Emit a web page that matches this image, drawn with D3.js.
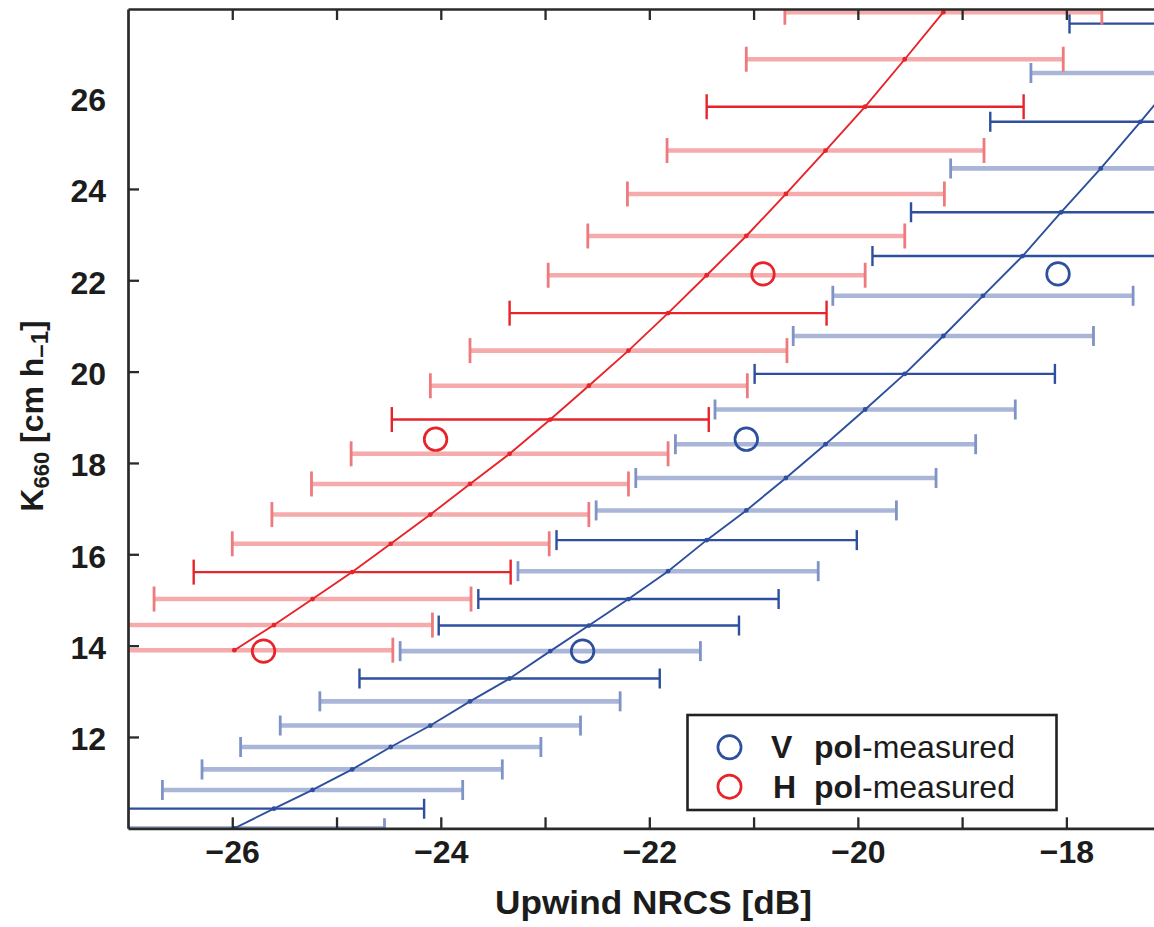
<!DOCTYPE html>
<html>
<head>
<meta charset="utf-8">
<script src="https://cdn.jsdelivr.net/npm/d3@7"></script>
<style>
  html, body { margin: 0; padding: 0; background: #fff; }
  svg { display: block; }
  text { font-family: "Liberation Sans", Arial, Helvetica, sans-serif; fill: #1c1c1c; }
</style>
</head>
<body>
<svg id="chart" width="1154" height="927"></svg>
<script>
// ---------------- data ----------------
// H pol model: upwind NRCS [dB] vs K660 [cm/h], with ±error bars
const hNRCS = [-19.18, -19.55, -19.93, -20.31, -20.69, -21.07, -21.45, -21.82, -22.20, -22.58,
               -22.95, -23.34, -23.72, -24.10, -24.48, -24.85, -25.23, -25.60, -25.98];
const hK    = [27.87, 26.84, 25.80, 24.84, 23.89, 22.97, 22.11, 21.28, 20.46, 19.69,
               18.95, 18.20, 17.54, 16.87, 16.23, 15.61, 15.02, 14.45, 13.90];
const hErr  = 1.52;

// V pol model
const vNRCS = [-16.53, -16.90, -17.29, -17.67, -18.05, -18.42, -18.80, -19.18, -19.55, -19.93,
               -20.31, -20.69, -21.07, -21.45, -21.82, -22.20, -22.58, -22.95, -23.34, -23.72,
               -24.10, -24.48, -24.85, -25.23, -25.60, -25.98];
const vK    = [27.62, 26.54, 25.47, 24.45, 23.49, 22.53, 21.66, 20.78, 19.95, 19.17,
               18.41, 17.67, 16.96, 16.31, 15.63, 15.02, 14.44, 13.88, 13.28, 12.78,
               12.25, 11.78, 11.29, 10.84, 10.43, 10.00];
const vErr  = 1.44;

// measured points
const hMeasNRCS = [-25.70, -24.05, -20.91];
const hMeasK    = [13.88, 18.52, 22.14];
const vMeasNRCS = [-22.64, -21.07, -18.08];
const vMeasK    = [13.88, 18.52, 22.14];

// axes
const xTicks      = [-26, -25, -24, -23, -22, -21, -20, -19, -18];
const xTickLabels = ["\u221226", "", "\u221224", "", "\u221222", "", "\u221220", "", "\u221218"];
const yTicks      = [12, 14, 16, 18, 20, 22, 24, 26];
const yTickLabels = ["12", "14", "16", "18", "20", "22", "24", "26"];
const legendPol   = ["V", "H"];
const legendText  = ["pol", "-measured"];

// ---------------- drawing ----------------
const RED = "#e8242b", RED_L = "#f5aaac", RED_M = "#ef7a7e";
const BLUE = "#2d4f9e", BLUE_L = "#aab6d8", BLUE_M = "#8093c6";
const AX = "#2a2a2a";

// rows that render crisp (saturated, thin) vs. soft (pale, wide) in the figure
const redCrisp = new Set([2, 7, 10, 15]);
const blueCrisp = new Set([0, 2, 4, 5, 8, 13, 15, 16, 18, 24]);

const svg = d3.select("#chart");
const x = d3.scaleLinear().domain([-27, -17.15]).range([128, 1155]);
const y = d3.scaleLinear().domain([10, 27.94]).range([828.3, 9]);

svg.append("defs").append("clipPath").attr("id", "clip")
  .append("rect").attr("x", x(-27)).attr("y", y(27.94))
  .attr("width", x(-17.15) - x(-27)).attr("height", y(10) - y(27.94));

const plot = svg.append("g").attr("clip-path", "url(#clip)");

function drawBars(nrcs, K, err, crisp, dark, light, mid, capH) {
  const rows = nrcs.map((v, i) => ({ v, k: K[i], c: crisp.has(i) }));
  const g = plot.append("g");
  const sorted = rows.slice().sort((a, b) => a.c - b.c);
  g.selectAll("line.bar").data(sorted).join("line")
    .attr("x1", d => x(d.v - err)).attr("x2", d => x(d.v + err))
    .attr("y1", d => y(d.k)).attr("y2", d => y(d.k))
    .attr("stroke", d => d.c ? dark : light)
    .attr("stroke-width", d => d.c ? 2.4 : 4.6);
  const caps = [];
  sorted.forEach(d => { caps.push({ xv: d.v - err, k: d.k, c: d.c }); caps.push({ xv: d.v + err, k: d.k, c: d.c }); });
  g.selectAll("line.cap").data(caps).join("line")
    .attr("x1", d => x(d.xv)).attr("x2", d => x(d.xv))
    .attr("y1", d => y(d.k) - capH).attr("y2", d => y(d.k) + capH)
    .attr("stroke", d => d.c ? dark : mid)
    .attr("stroke-width", d => d.c ? 2.4 : 2.8);
}

function drawCurve(nrcs, K, color) {
  const pts = nrcs.map((v, i) => ({ v, k: K[i] }));
  plot.append("path").datum(pts)
    .attr("d", d3.line().x(d => x(d.v)).y(d => y(d.k)))
    .attr("fill", "none").attr("stroke", color).attr("stroke-width", 1.9);
  plot.append("g").selectAll("circle").data(pts).join("circle")
    .attr("cx", d => x(d.v)).attr("cy", d => y(d.k)).attr("r", 2.4)
    .attr("fill", color);
}

drawBars(vNRCS, vK, vErr, blueCrisp, BLUE, BLUE_L, BLUE_M, 10);
drawBars(hNRCS, hK, hErr, redCrisp, RED, RED_L, RED_M, 12.5);
drawCurve(vNRCS, vK, BLUE);
drawCurve(hNRCS, hK, RED);

function drawMeas(nrcs, K, color) {
  plot.append("g").selectAll("circle").data(nrcs.map((v, i) => ({ v, k: K[i] }))).join("circle")
    .attr("cx", d => x(d.v)).attr("cy", d => y(d.k)).attr("r", 11.3)
    .attr("fill", "none").attr("stroke", color).attr("stroke-width", 2.7);
}
drawMeas(hMeasNRCS, hMeasK, RED);
drawMeas(vMeasNRCS, vMeasK, BLUE);

// axes
const fontTick = "bold 32px 'Liberation Sans', Arial, sans-serif";

const gB = svg.append("g").attr("transform", `translate(0,${y(10)})`)
  .call(d3.axisBottom(x).tickValues(xTicks).tickSize(-11).tickSizeOuter(0).tickPadding(12)
    .tickFormat((d, i) => xTickLabels[i]));
const gT = svg.append("g").attr("transform", `translate(0,${y(27.94)})`)
  .call(d3.axisTop(x).tickValues(xTicks).tickSize(-11).tickSizeOuter(0).tickFormat(""));
const gL = svg.append("g").attr("transform", `translate(${x(-27)},0)`)
  .call(d3.axisLeft(y).tickValues(yTicks).tickSize(-11).tickSizeOuter(0).tickPadding(22)
    .tickFormat((d, i) => yTickLabels[i]));
gL.selectAll(".tick").filter(d => d === 26).select("line").remove();

[gB, gT, gL].forEach(g => {
  g.select(".domain").attr("stroke", AX).attr("stroke-width", 2.7);
  g.selectAll(".tick line").attr("stroke", AX).attr("stroke-width", 2.3);
  g.selectAll(".tick text").style("font", fontTick).attr("fill", "#1c1c1c");
});
gL.selectAll(".tick text").attr("dy", "0.40em");

// axis titles
svg.append("text")
  .attr("x", 653.5).attr("y", 914).attr("text-anchor", "middle")
  .attr("textLength", 317).attr("lengthAdjust", "spacingAndGlyphs")
  .style("font", "bold 33px 'Liberation Sans', Arial, sans-serif")
  .text("Upwind NRCS [dB]");

const yl = svg.append("text")
  .attr("transform", "translate(43,416) rotate(-90)")
  .attr("text-anchor", "middle")
  .style("font", "bold 32px 'Liberation Sans', Arial, sans-serif");
yl.append("tspan").text("K");
yl.append("tspan").attr("dy", "0.28em").style("font-size", "22px").text("660");
yl.append("tspan").attr("dy", "-0.20em").text(" [cm h");
yl.append("tspan").attr("dy", "0.22em").style("font-size", "24px").text("\u20131");
yl.append("tspan").attr("dy", "-0.17em").text("]");

// legend
const lg = svg.append("g");
lg.append("rect").attr("x", 687.5).attr("y", 715).attr("width", 369).attr("height", 95)
  .attr("fill", "#fff").attr("stroke", "#222").attr("stroke-width", 2.6);
const legendColors = [BLUE, RED];
legendPol.forEach((p, i) => {
  const cy = 747.3 + i * 39.4;
  lg.append("circle").attr("cx", 729.5).attr("cy", cy).attr("r", 11.6)
    .attr("fill", "none").attr("stroke", legendColors[i]).attr("stroke-width", 2.7);
  const t = lg.append("text").attr("y", cy + 11).style("font-size", "32px");
  t.append("tspan").attr("x", 771 + i * 2).style("font-weight", "bold").text(p);
  t.append("tspan").attr("x", 814).style("font-weight", "bold").text(legendText[0]);
  t.append("tspan").style("font-weight", "normal").text(legendText[1]);
});
</script>
</body>
</html>
